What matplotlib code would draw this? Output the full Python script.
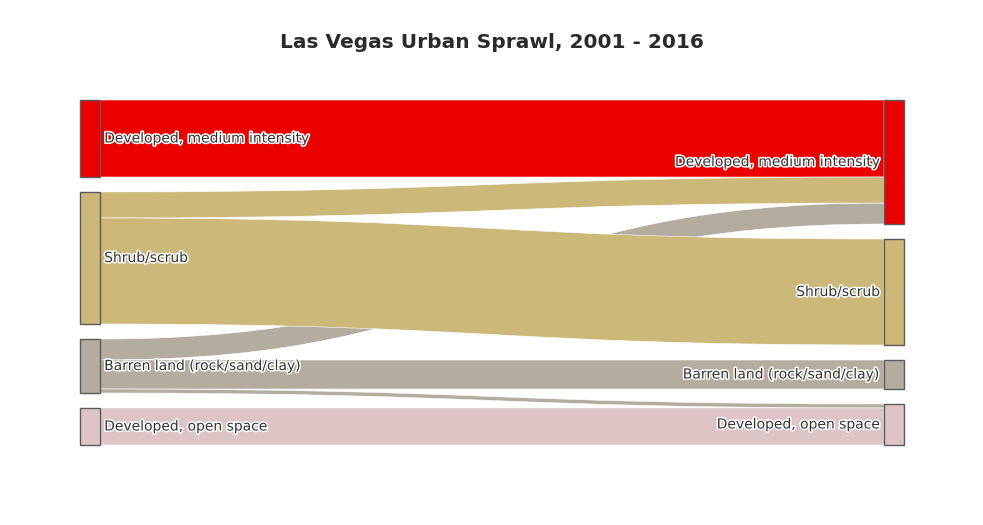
import numpy as np
import matplotlib.pyplot as plt
import matplotlib.patheffects as pe
from matplotlib.path import Path
from matplotlib.patches import PathPatch, Rectangle

# land cover classes (same order in 2001 and 2016 columns)
labels = ['Developed, medium intensity', 'Shrub/scrub',
          'Barren land (rock/sand/clay)', 'Developed, open space']
colors = ['#EB0000', '#CCB879', '#B3AC9F', '#DEC5C5']

# flows 2001 -> 2016 (source index, target index, value)
sources = [0, 1, 1, 2, 2, 2, 3]
targets = [0, 0, 1, 0, 2, 3, 3]
values = [77, 26, 106, 21, 29, 4, 37]
# drawing order of links (shrub bands lie on top of barren band)
draw_order = [0, 3, 4, 5, 6, 1, 2]

W, H = 983, 525
fig = plt.figure(figsize=(W / 100, H / 100), dpi=100)
# sankey domain in pixels: left 80, right 904, top 100, bottom 445
ax = fig.add_axes([80 / W, (H - 445) / H, 824 / W, 345 / H])
ax.set_axis_off()

n = len(labels)
out_tot = np.zeros(n)
in_tot = np.zeros(n)
for s, t, v in zip(sources, targets, values):
    out_tot[s] += v
    in_tot[t] += v

pad_frac = 15 / 345
total = max(out_tot.sum(), in_tot.sum())
pad = pad_frac * total / (1 - (n - 1) * pad_frac)
height = total + (n - 1) * pad
node_w = 20 / 824

ax.set_xlim(0, 1)
ax.set_ylim(height, 0)


def stack(tot):
    tops = []
    y = 0
    for v in tot:
        tops.append(y)
        y += v + pad
    return np.array(tops)


left_top = stack(out_tot)
right_top = stack(in_tot)

# link offsets: at each node, sort by other end position
src_off = {}
tgt_off = {}
for i in range(n):
    outs = sorted([k for k in range(len(values)) if sources[k] == i], key=lambda k: targets[k])
    y = left_top[i]
    for k in outs:
        src_off[k] = y
        y += values[k]
    ins = sorted([k for k in range(len(values)) if targets[k] == i], key=lambda k: sources[k])
    y = right_top[i]
    for k in ins:
        tgt_off[k] = y
        y += values[k]

x0 = node_w
x1 = 1 - node_w
xm = (x0 + x1) / 2
for k in draw_order:
    v = values[k]
    y0a, y1a = src_off[k], tgt_off[k]
    y0b, y1b = y0a + v, y1a + v
    verts = [(x0, y0a), (xm, y0a), (xm, y1a), (x1, y1a),
             (x1, y1b), (xm, y1b), (xm, y0b), (x0, y0b), (x0, y0a)]
    codes = [Path.MOVETO, Path.CURVE4, Path.CURVE4, Path.CURVE4,
             Path.LINETO, Path.CURVE4, Path.CURVE4, Path.CURVE4, Path.CLOSEPOLY]
    ax.add_patch(PathPatch(Path(verts, codes), facecolor=colors[sources[k]],
                           edgecolor='white', lw=0.4, zorder=1, clip_on=False))

halo = [pe.withStroke(linewidth=2.2, foreground='white')]
for i in range(n):
    ax.add_patch(Rectangle((0, left_top[i]), node_w, out_tot[i], facecolor=colors[i],
                           edgecolor='#5a5a5a', lw=1, zorder=2, clip_on=False))
    ax.add_patch(Rectangle((1 - node_w, right_top[i]), node_w, in_tot[i], facecolor=colors[i],
                           edgecolor='#5a5a5a', lw=1, zorder=2, clip_on=False))
    ax.annotate(labels[i], (node_w, left_top[i] + out_tot[i] / 2), xytext=(3, 0),
                textcoords='offset points', ha='left', va='center', fontsize=10,
                color='#333333', path_effects=halo, zorder=3)
    ax.annotate(labels[i], (1 - node_w, right_top[i] + in_tot[i] / 2), xytext=(-3, 0),
                textcoords='offset points', ha='right', va='center', fontsize=10,
                color='#333333', path_effects=halo, zorder=3)

fig.text(492 / W, 1 - 43 / H, 'Las Vegas Urban Sprawl, 2001 - 2016', ha='center', va='center',
         fontsize=14.5, fontweight='bold', color='#2a2a2a')

fig.savefig('out.png', dpi=100, facecolor='white')
